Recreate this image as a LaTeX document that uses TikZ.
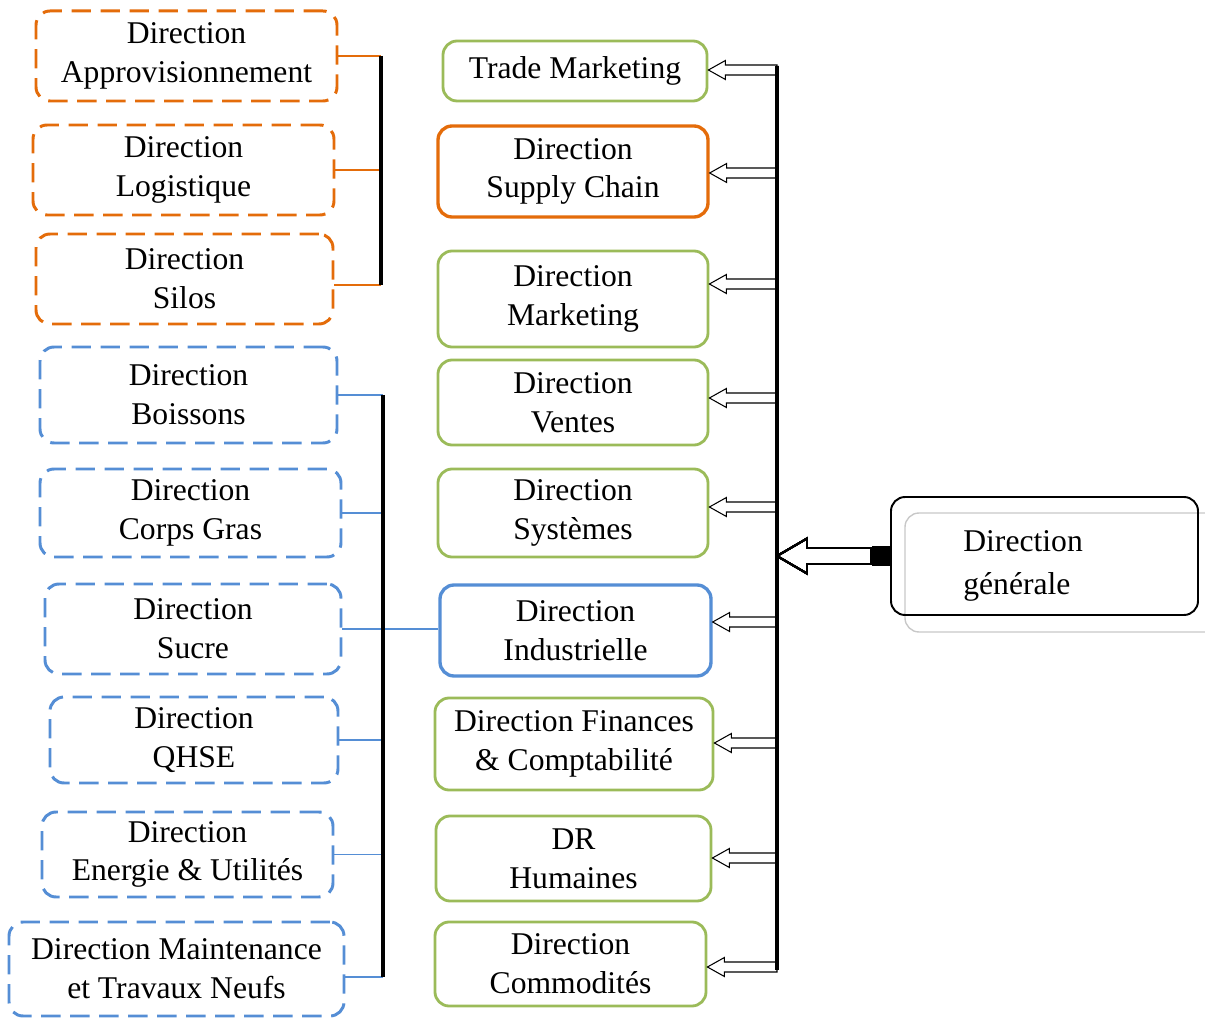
\documentclass[tikz,border=0pt]{standalone}
\usepackage{fontspec}
\setmainfont{Liberation Serif}
\usetikzlibrary{calc}

\definecolor{orgline}{HTML}{E46C0A}
\definecolor{grnline}{HTML}{9BBB59}
\definecolor{bluline}{HTML}{558ED5}
\definecolor{shadowgray}{HTML}{C8C8C8}

% hollow arrow pointing left: [options]{tail}{tip}{shaft half}{head half}{head length}
\newcommand{\hollowarrow}[6][]{%
  \draw[#1] let \p1=(#2), \p2=(#3) in
    (\x1,\y2+#4) -- (\x2+#6,\y2+#4) -- (\x2+#6,\y2+#5) -- (\x2,\y2)
    -- (\x2+#6,\y2-#5) -- (\x2+#6,\y2-#4) -- (\x1,\y2-#4) -- cycle;}

\tikzset{
  dirbox/.style={rounded corners=8pt, align=center, inner sep=0pt,
    font=\fontsize{18}{22}\selectfont, line width=1.6pt},
  orgdash/.style={dirbox, draw=orgline, line width=1.7pt, dash pattern=on 11pt off 5.5pt},
  bludash/.style={dirbox, draw=bluline, line width=1.7pt, dash pattern=on 11pt off 5.5pt},
  grnbox/.style={dirbox, draw=grnline},
  bus/.style={line width=2.2pt, black},
  branch/.style={line width=0.9pt}
}

\begin{document}
\begin{tikzpicture}
  \useasboundingbox (0,0) rectangle (24.1,-20.36);

  % left column, orange group
  \node[orgdash, minimum width=6.02cm, minimum height=1.8cm] (appro) at (3.73,-1.12) {Direction\\Approvisionnement};
  \node[orgdash, minimum width=6.02cm, minimum height=1.8cm] (logist) at (3.67,-3.40) {Direction\\Logistique};
  \node[orgdash, minimum width=5.94cm, minimum height=1.8cm] (silos) at (3.69,-5.58) {Direction\\Silos};

  % left column, blue group
  \node[bludash, minimum width=5.94cm, minimum height=1.92cm] (boissons) at (3.77,-7.90) {Direction\\Boissons};
  \node[bludash, minimum width=6.02cm, minimum height=1.76cm] (corps) at (3.81,-10.26) {Direction\\Corps Gras};
  \node[bludash, minimum width=5.92cm, minimum height=1.8cm] (sucre) at (3.86,-12.58) {Direction\\Sucre};
  \node[bludash, minimum width=5.76cm, minimum height=1.72cm] (qhse) at (3.88,-14.80) {Direction\\QHSE};
  \node[bludash, minimum width=5.82cm, minimum height=1.70cm] (energie) at (3.75,-17.09) {Direction\\Energie \& Utilités};
  \node[bludash, minimum width=6.70cm, minimum height=1.88cm] (maint) at (3.53,-19.38) {Direction Maintenance\\et Travaux Neufs};

  % middle column
  \node[grnbox, minimum width=5.28cm, minimum height=1.2cm] (trade) at (11.50,-1.42) {Trade Marketing};
  \node[dirbox, draw=orgline, line width=1.9pt, minimum width=5.40cm, minimum height=1.82cm] (supply) at (11.46,-3.43) {Direction\\Supply Chain};
  \node[grnbox, minimum width=5.40cm, minimum height=1.92cm] (mkt) at (11.46,-5.98) {Direction\\Marketing};
  \node[grnbox, minimum width=5.40cm, minimum height=1.70cm] (ventes) at (11.46,-8.05) {Direction\\Ventes};
  \node[grnbox, minimum width=5.40cm, minimum height=1.76cm] (syst) at (11.46,-10.26) {Direction\\Systèmes};
  \node[dirbox, draw=bluline, line width=1.9pt, minimum width=5.42cm, minimum height=1.82cm] (indus) at (11.51,-12.61) {Direction\\Industrielle};
  \node[grnbox, minimum width=5.56cm, minimum height=1.84cm] (fin) at (11.48,-14.88) {Direction Finances\\\& Comptabilité};
  \node[grnbox, minimum width=5.50cm, minimum height=1.70cm] (drh) at (11.47,-17.17) {DR\\Humaines};
  \node[grnbox, minimum width=5.42cm, minimum height=1.68cm] (comm) at (11.41,-19.28) {Direction\\Commodités};

  % general management, with its grey shadow frame
  \draw[shadowgray, line width=0.8pt, rounded corners=8pt] (18.10,-10.26) rectangle (24.4,-12.64);
  \node[dirbox, draw=black, line width=1.1pt, minimum width=6.14cm, minimum height=2.36cm] (dg) at (20.89,-11.12) {};
  \node[align=left, inner sep=0pt, anchor=west, font=\fontsize{18}{24.5}\selectfont] (dgtext) at (19.26,-11.32) {Direction\\générale};
  \node[fill=black, minimum width=0.36cm, minimum height=0.4cm, inner sep=0pt, anchor=east] (sq) at (dg.west) {};

  % right bus and the arrows feeding each direction
  \coordinate (rtop) at (15.54,-1.32);
  \coordinate (rbot) at (15.54,-19.40);
  \foreach \b/\ay in {trade/-1.40, supply/-3.46, mkt/-5.68, ventes/-7.96, syst/-10.14,
                      indus/-12.44, fin/-14.86, drh/-17.16, comm/-19.34}
    \hollowarrow[line width=0.6pt]{15.54,\ay}{\b.east |- 0,\ay}{0.1cm}{0.19cm}{0.34cm}
  \hollowarrow[line width=1.1pt]{sq.west}{rtop |- sq.west}{0.16cm}{0.35cm}{0.6cm}
  \draw[bus] (rtop) -- (rbot);

  % orange bus
  \coordinate (obus) at (7.62,0);
  \draw[branch, orgline] (appro.east) -- (obus |- appro.east);
  \draw[branch, orgline] (logist.east) -- (obus |- logist.east);
  \draw[branch, orgline] ($(silos.east)+(0,-0.12)$) -- ($(obus |- silos.east)+(0,-0.12)$);
  \draw[bus] (obus |- appro.east) -- ($(obus |- silos.east)+(0,-0.12)$);

  % blue bus
  \coordinate (bbus) at (7.66,0);
  \foreach \b in {boissons, corps, qhse, energie}
    \draw[branch, bluline] (\b.east) -- (bbus |- \b.east);
  \draw[branch, bluline] ($(maint.east)+(0,-0.16)$) -- ($(bbus |- maint.east)+(0,-0.16)$);
  \draw[branch, bluline] (sucre.east) -- (sucre.east -| indus.west);
  \draw[bus] (bbus |- boissons.east) -- ($(bbus |- maint.east)+(0,-0.16)$);
\end{tikzpicture}
\end{document}
